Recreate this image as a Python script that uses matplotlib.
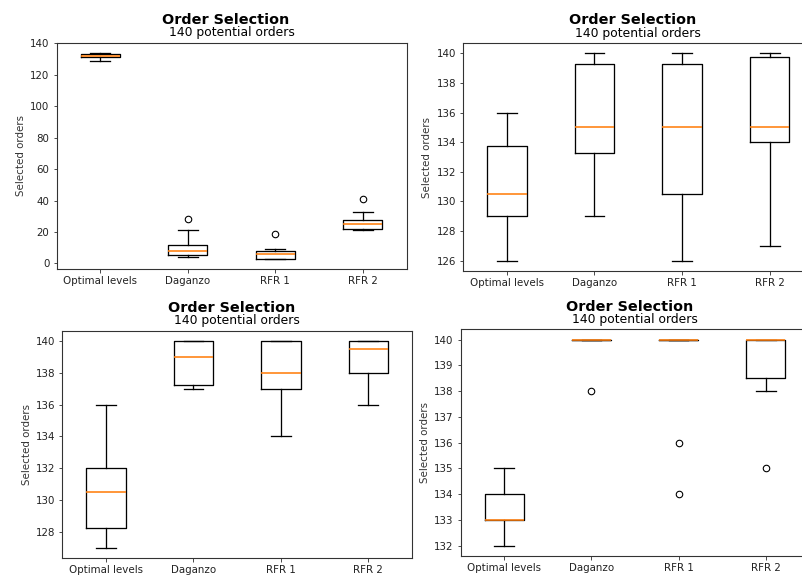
import matplotlib
matplotlib.use("Agg")
import matplotlib.pyplot as plt

# Method names shared by every panel
methods = ["Optimal levels", "Daganzo", "RFR 1", "RFR 2"]

# Panel A (top left)
a_whislo = [129, 4, 3, 21]
a_q1 = [131.5, 5.5, 3, 22]
a_med = [132, 8, 6, 25]
a_q3 = [133, 12, 8, 27.5]
a_whishi = [134, 21, 9, 33]
a_fliers = [[], [28], [19], [41]]

# Panel B (top right)
b_whislo = [126, 129, 126, 127]
b_q1 = [129, 133.25, 130.5, 134]
b_med = [130.5, 135, 135, 135]
b_q3 = [133.75, 139.25, 139.25, 139.75]
b_whishi = [136, 140, 140, 140]
b_fliers = [[], [], [], []]

# Panel C (bottom left)
c_whislo = [127, 137, 134, 136]
c_q1 = [128.25, 137.25, 137, 138]
c_med = [130.5, 139, 138, 139.5]
c_q3 = [132, 140, 140, 140]
c_whishi = [136, 140, 140, 140]
c_fliers = [[], [], [], []]

# Panel D (bottom right)
d_whislo = [132, 140, 140, 138]
d_q1 = [133, 140, 140, 138.5]
d_med = [133, 140, 140, 140]
d_q3 = [134, 140, 140, 140]
d_whishi = [135, 140, 140, 140]
d_fliers = [[], [138], [136, 134], [135]]

title = "Order Selection"
subtitle = "140 potential orders"
ylabel = "Selected orders"

W, H, DPI = 802, 577, 72
fig = plt.figure(figsize=(W / DPI, H / DPI), dpi=DPI)
fig.patch.set_facecolor("white")

TICK_FS = 10.3
SUB_FS = 12.4
TITLE_FS = 14.4
LW = 1.3


def make_stats(whislo, q1, med, q3, whishi, fliers):
    return [
        dict(label=lab, whislo=lo, q1=a, med=m, q3=b, whishi=hi, fliers=fl)
        for lab, lo, a, m, b, hi, fl in zip(methods, whislo, q1, med, q3, whishi, fliers)
    ]


def panel(box, stats):
    left, right, top, bottom = box
    ax = fig.add_axes([left / W, 1 - bottom / H, (right - left) / W, (bottom - top) / H])
    ax.bxp(stats, showfliers=True,
           boxprops=dict(linewidth=LW, color="black"),
           whiskerprops=dict(linewidth=LW, color="black"),
           capprops=dict(linewidth=LW, color="black"),
           medianprops=dict(linewidth=1.6, color="#ff7f0e"),
           flierprops=dict(marker="o", markerfacecolor="none",
                           markeredgecolor="black", markersize=6.5,
                           markeredgewidth=1.1))
    ax.set_xlim(0.5, 4.5)
    for sp in ax.spines.values():
        sp.set_linewidth(1.1)
        sp.set_color("#333333")
    ax.tick_params(labelsize=TICK_FS, colors="#222222")
    ax.set_ylabel(ylabel, fontsize=TICK_FS, color="#333333")
    ax.annotate(subtitle, xy=(0.5, 1), xycoords="axes fraction",
                xytext=(0, 6.5), textcoords="offset points",
                ha="center", va="baseline", fontsize=SUB_FS)
    ax.annotate(title, xy=(0.5, 1), xycoords="axes fraction",
                xytext=(-5.5, 18.5), textcoords="offset points",
                ha="center", va="baseline", fontsize=TITLE_FS, fontweight="bold")
    return ax


panel((56.5, 406.5, 42.5, 269), make_stats(a_whislo, a_q1, a_med, a_q3, a_whishi, a_fliers))
panel((463, 813.5, 43, 271), make_stats(b_whislo, b_q1, b_med, b_q3, b_whishi, b_fliers))
panel((62.3, 412, 330.7, 558), make_stats(c_whislo, c_q1, c_med, c_q3, c_whishi, c_fliers))
panel((460.7, 809.3, 329.3, 556), make_stats(d_whislo, d_q1, d_med, d_q3, d_whishi, d_fliers))

fig.savefig("out.png", dpi=DPI, facecolor="white")
